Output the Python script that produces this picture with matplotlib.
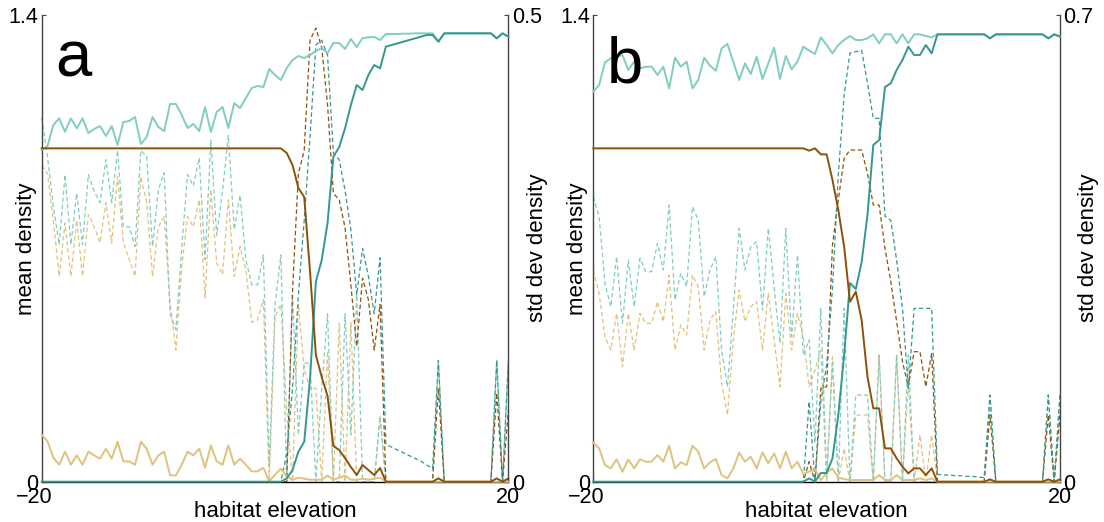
import numpy as np
import matplotlib.pyplot as plt
import matplotlib.transforms as mtransforms

plt.rcParams['font.family'] = ['Liberation Sans', 'DejaVu Sans']

# habitat elevation grid
elev = np.linspace(-20, 20, 81)

# ---- panel a: mean density ----
a_mean_dark = [0.0] * 42 + [
    0.01, 0.035, 0.09, 0.12, 0.31, 0.6, 0.665, 0.776,
    0.975, 1.004, 1.06, 1.13, 1.19, 1.175, 1.22, 1.25, 1.24, 1.305,
    1.31, 1.315, 1.32, 1.325, 1.33, 1.335, 1.34, 1.34, 1.32, 1.345,
    1.345, 1.345, 1.345, 1.345, 1.345, 1.345, 1.345, 1.345, 1.33, 1.345,
    1.335]
a_mean_light = [
    0.995, 1.007, 1.07, 1.09, 1.05, 1.09, 1.06, 1.09, 1.046, 1.058,
    1.067, 1.037, 1.067, 1.01, 1.079, 1.082, 1.094, 1.013, 1.034, 1.094,
    1.064, 1.052, 1.133, 1.133, 1.10, 1.061, 1.073, 1.052, 1.124, 1.049,
    1.109, 1.124, 1.061, 1.136, 1.121, 1.151, 1.181, 1.187, 1.184, 1.238,
    1.22, 1.205, 1.241, 1.265, 1.277, 1.271, 1.28, 1.292, 1.301, 1.286,
    1.316, 1.316, 1.298, 1.328, 1.304, 1.331, 1.333, 1.334, 1.325, 1.343,
    1.343, 1.343, 1.344, 1.344, 1.345, 1.345, 1.345, 1.345, 1.32, 1.345,
    1.345, 1.345, 1.345, 1.345, 1.345, 1.345, 1.345, 1.345, 1.33, 1.345,
    1.335]
a_mean_brown = [1.0] * 42 + [
    0.986, 0.95, 0.881, 0.854, 0.63, 0.38, 0.314, 0.257,
    0.107, 0.095, 0.071, 0.044, 0.02, 0.05, 0.035, 0.02, 0.041, 0.0,
    0, 0, 0, 0, 0, 0, 0, 0, 0.01, 0,
    0, 0, 0, 0, 0, 0, 0, 0, 0.01, 0,
    0.01]
a_mean_tan = [
    0.141, 0.121, 0.072, 0.051, 0.09, 0.051, 0.079, 0.051, 0.09, 0.079,
    0.069, 0.099, 0.069, 0.12, 0.061, 0.061, 0.051, 0.12, 0.099, 0.051,
    0.079, 0.09, 0.019, 0.019, 0.051, 0.09, 0.079, 0.099, 0.042, 0.109,
    0.061, 0.051, 0.109, 0.051, 0.069, 0.051, 0.031, 0.031, 0.042, 0.001,
    0.021, 0.039, 0.015, 0.006, 0.012, 0.009, 0.006, 0.006, 0.006, 0.018,
    0.006, 0.012, 0.018, 0.006, 0.006, 0.009, 0.006, 0.009, 0.012, 0.0] + [0.0] * 21

# ---- panel a: std dev density ----
a_sd_dark = [0.0] * 42 + [
    0.03, 0.1, 0.2, 0.28, 0.37, 0.468, 0.473, 0.457,
    0.352, 0.345, 0.312, 0.27, 0.2, 0.25, 0.22, 0.18, 0.24, 0.04,
    0.037, 0.034, 0.031, 0.028, 0.025, 0.022, 0.018, 0.014, 0.13, 0,
    0, 0, 0, 0, 0, 0, 0, 0, 0.13, 0,
    0.13]
a_sd_light = [
    0.39, 0.348, 0.295, 0.254, 0.329, 0.254, 0.309, 0.254, 0.329, 0.311,
    0.299, 0.345, 0.299, 0.355, 0.273, 0.273, 0.252, 0.355, 0.348, 0.252,
    0.313, 0.331, 0.18, 0.163, 0.25, 0.329, 0.317, 0.347, 0.238, 0.366,
    0.264, 0.312, 0.371, 0.27, 0.307, 0.238, 0.211, 0.211, 0.243, 0.016,
    0.19, 0.243, 0.0, 0.2, 0.05, 0.127, 0.127, 0.0, 0.1, 0.18,
    0.0, 0.0, 0.18, 0.05, 0.2, 0.0, 0.0, 0.0, 0.07, 0.0,
    0, 0, 0, 0, 0, 0, 0, 0, 0.13, 0,
    0, 0, 0, 0, 0, 0, 0, 0, 0.13, 0,
    0.13]
a_sd_brown = [0.0] * 43 + [
    0.205, 0.33, 0.355, 0.473, 0.486, 0.465, 0.404,
    0.309, 0.302, 0.272, 0.211, 0.145, 0.218, 0.195, 0.141, 0.19, 0.0,
    0, 0, 0, 0, 0, 0, 0, 0, 0.1, 0,
    0, 0, 0, 0, 0, 0, 0, 0, 0.095, 0,
    0.077]
a_sd_tan = [
    0.339, 0.33, 0.28, 0.22, 0.277, 0.22, 0.28, 0.22, 0.286, 0.273,
    0.256, 0.299, 0.256, 0.327, 0.256, 0.238, 0.22, 0.327, 0.299, 0.22,
    0.273, 0.284, 0.192, 0.141, 0.23, 0.284, 0.273, 0.302, 0.197, 0.313,
    0.234, 0.222, 0.302, 0.22, 0.252, 0.227, 0.171, 0.173, 0.195, 0.0,
    0.177, 0.19, 0.077, 0.0, 0.19, 0.12, 0.1, 0.1, 0.0, 0.14,
    0.0, 0.17, 0.0, 0.17, 0.0, 0.0, 0.0, 0.0, 0.07, 0.0] + [0.0] * 21

# ---- panel b: mean density ----
b_mean_dark = [0.0] * 37 + [
    0.01, 0.0, 0.026,
    0.026, 0.07, 0.2, 0.38, 0.596, 0.578, 0.659, 0.8, 1.01, 1.025,
    1.184, 1.195, 1.235, 1.265, 1.305, 1.28, 1.28, 1.31, 1.285, 1.342,
    1.342, 1.342, 1.342, 1.342, 1.342, 1.342, 1.342, 1.342, 1.33, 1.342,
    1.342, 1.342, 1.342, 1.342, 1.342, 1.342, 1.342, 1.342, 1.33, 1.342,
    1.335]
b_mean_light = [
    1.17, 1.19, 1.258, 1.27, 1.275, 1.28, 1.235, 1.26, 1.24, 1.245,
    1.245, 1.22, 1.245, 1.18, 1.272, 1.245, 1.26, 1.18, 1.205, 1.272,
    1.248, 1.233, 1.30, 1.313, 1.26, 1.205, 1.255, 1.223, 1.275, 1.208,
    1.255, 1.302, 1.208, 1.277, 1.237, 1.26, 1.305, 1.293, 1.283, 1.333,
    1.31, 1.285, 1.31, 1.325, 1.337, 1.325, 1.325, 1.33, 1.342, 1.315,
    1.342, 1.342, 1.315, 1.342, 1.315, 1.342, 1.342, 1.337, 1.333, 1.342,
    1.342, 1.342, 1.342, 1.342, 1.342, 1.342, 1.342, 1.342, 1.33, 1.342,
    1.342, 1.342, 1.342, 1.342, 1.342, 1.342, 1.342, 1.342, 1.33, 1.342,
    1.335]
b_mean_brown = [1.0] * 37 + [
    0.993, 1.0, 0.982,
    0.982, 0.905, 0.815, 0.705, 0.54, 0.57, 0.485, 0.315, 0.22, 0.22,
    0.1, 0.1, 0.07, 0.045, 0.025, 0.04, 0.04, 0.02, 0.04, 0.0,
    0, 0, 0, 0, 0, 0, 0, 0, 0.007, 0,
    0, 0, 0, 0, 0, 0, 0, 0, 0.007, 0,
    0.007]
b_mean_tan = [
    0.117, 0.1, 0.05, 0.04, 0.067, 0.03, 0.067, 0.04, 0.067, 0.06,
    0.06, 0.08, 0.06, 0.108, 0.04, 0.058, 0.05, 0.108, 0.09, 0.04,
    0.058, 0.068, 0.02, 0.01, 0.04, 0.087, 0.06, 0.075, 0.04, 0.088,
    0.055, 0.085, 0.04, 0.09, 0.04, 0.06, 0.023, 0.03, 0.037, 0.005,
    0.027, 0.04, 0.012, 0.008, 0.005, 0.005, 0.005, 0.005, 0.005, 0.02,
    0.005, 0.005, 0.02, 0.005, 0.005, 0.005, 0.01, 0.005, 0.01, 0.0] + [0.0] * 21

# ---- panel b: std dev density ----
b_sd_dark = [0.0] * 37 + [
    0.12, 0.0, 0.12,
    0.175, 0.29, 0.46, 0.58, 0.643, 0.645, 0.647, 0.598, 0.545, 0.545,
    0.398, 0.392, 0.332, 0.26, 0.14, 0.26, 0.26, 0.26, 0.26, 0.011,
    0.01, 0.01, 0.009, 0.009, 0.008, 0.008, 0.007, 0.006, 0.13, 0,
    0, 0, 0, 0, 0, 0, 0, 0, 0.13, 0,
    0.13]
b_sd_light = [
    0.4275, 0.3975, 0.2975, 0.2625, 0.3375, 0.2375, 0.3325, 0.2625, 0.335, 0.315,
    0.315, 0.3575, 0.3175, 0.415, 0.2725, 0.3125, 0.2925, 0.4125, 0.3925, 0.2775,
    0.3175, 0.3375, 0.1975, 0.1425, 0.2575, 0.38, 0.3175, 0.3525, 0.36, 0.2575,
    0.38, 0.2925, 0.2075, 0.38, 0.2175, 0.34, 0.19, 0.2125, 0.058, 0.26,
    0.007, 0.178, 0.0, 0.26, 0.0, 0.13, 0.13, 0.13, 0.0, 0.19,
    0.0, 0.0, 0.19, 0.0, 0.19, 0.0, 0.0, 0.0, 0.0, 0.0,
    0, 0, 0, 0, 0, 0, 0, 0, 0.13, 0,
    0, 0, 0, 0, 0, 0, 0, 0, 0.13, 0,
    0.13]
b_sd_brown = [0.0] * 37 + [
    0.03, 0.0, 0.14,
    0.1425, 0.355, 0.4225, 0.485, 0.4975, 0.4975, 0.4975, 0.4625, 0.415, 0.415,
    0.35, 0.3, 0.24, 0.18, 0.1425, 0.195, 0.195, 0.1425, 0.192, 0.0,
    0, 0, 0, 0, 0, 0, 0, 0, 0.1, 0,
    0, 0, 0, 0, 0, 0, 0, 0, 0.1, 0,
    0.1]
b_sd_tan = [
    0.3175, 0.2825, 0.2175, 0.1975, 0.2525, 0.1725, 0.2525, 0.1975, 0.2525, 0.2375,
    0.2375, 0.27, 0.24, 0.31, 0.1975, 0.235, 0.22, 0.31, 0.2925, 0.1975,
    0.2425, 0.255, 0.1475, 0.1, 0.2125, 0.2875, 0.24, 0.2625, 0.27, 0.1975,
    0.2825, 0.2125, 0.1425, 0.2825, 0.1975, 0.2525, 0.2175, 0.1425, 0.1675, 0.1975,
    0.0, 0.1875, 0.0, 0.05, 0.0, 0.1, 0.1, 0.1, 0.0, 0.19,
    0.0, 0.0, 0.19, 0.0, 0.15, 0.0, 0.07, 0.0, 0.07, 0.0] + [0.0] * 21

DARK = '#35978f'
LIGHT = '#80cdc1'
BROWN = '#8c510a'
TAN = '#dfc27d'
AXCOL = '#444444'

fig = plt.figure(figsize=(11.04, 5.22), dpi=100)


def draw_panel(rect, means, sds, sd_top, sd_label, letter, letter_y):
    ax = fig.add_axes(rect)
    ax2 = ax.twinx()
    # solid means sit above the dashed std lines
    ax.set_zorder(ax2.get_zorder() + 1)
    ax.patch.set_visible(False)

    mean_tan, mean_light, mean_dark, mean_brown = means
    sd_tan, sd_light, sd_brown, sd_dark = sds

    for vals, col in [(sd_tan, TAN), (sd_light, LIGHT), (sd_brown, BROWN), (sd_dark, DARK)]:
        ax2.plot(elev, vals, color=col, lw=0.9, dashes=(3.5, 2.2), clip_on=False)
    for vals, col in [(mean_tan, TAN), (mean_light, LIGHT), (mean_dark, DARK), (mean_brown, BROWN)]:
        ax.plot(elev, vals, color=col, lw=1.4, clip_on=False, zorder=3)

    ax.set_xlim(-20, 20)
    ax.set_ylim(0, 1.4)
    ax2.set_ylim(0, sd_top)

    for s in ['top', 'right']:
        ax.spines[s].set_visible(False)
    for s in ['top', 'left', 'bottom']:
        ax2.spines[s].set_visible(False)
    ax.spines['left'].set_color(AXCOL)
    ax.spines['bottom'].set_color('black')
    ax2.spines['right'].set_color(AXCOL)
    for sp in [ax.spines['left'], ax.spines['bottom'], ax2.spines['right']]:
        sp.set_linewidth(1.0)

    ax.set_xticks([-20, 20])
    ax.set_xticklabels(['\u221220', '20'])
    ax.set_yticks([0, 1.4])
    ax.set_yticklabels(['0', '1.4'])
    ax2.set_yticks([0, sd_top])
    ax2.set_yticklabels(['0', sd_label])
    ax.tick_params(axis='x', direction='in', length=3, colors='black', labelsize=15.5, pad=4)
    ax.tick_params(axis='y', direction='in', length=3, color=AXCOL, labelcolor='black',
                   labelsize=15.5, pad=2.5)
    ax2.tick_params(axis='y', direction='in', length=3, color=AXCOL, labelcolor='black',
                    labelsize=15.5, pad=2.5)

    # the minus hangs to the left of the tick
    lbl = ax.get_xticklabels()[0]
    lbl.set_transform(lbl.get_transform() +
                      mtransforms.ScaledTranslation(-7 / 100, 0, fig.dpi_scale_trans))

    ax.text(-0.033, 0.5, 'mean density', rotation=90, ha='center', va='center',
            fontsize=16, transform=ax.transAxes)
    ax.text(1.062, 0.502, 'std dev density', rotation=90, ha='center', va='center',
            fontsize=16, transform=ax.transAxes)
    ax.text(0.5, -0.075, 'habitat elevation', ha='center', va='baseline',
            fontsize=16, transform=ax.transAxes)
    ax.text(0.028, letter_y, letter, ha='left', va='baseline', fontsize=47,
            transform=ax.transAxes, zorder=5)
    return ax


draw_panel([0.03777, 0.0772, 0.42273, 0.89406],
           (a_mean_tan, a_mean_light, a_mean_dark, a_mean_brown),
           (a_sd_tan, a_sd_light, a_sd_brown, a_sd_dark),
           0.5, '0.5', 'a', 0.869)
draw_panel([0.5374, 0.0772, 0.42273, 0.89406],
           (b_mean_tan, b_mean_light, b_mean_dark, b_mean_brown),
           (b_sd_tan, b_sd_light, b_sd_brown, b_sd_dark),
           0.7, '0.7', 'b', 0.856)

fig.savefig('out.png', dpi=100)
